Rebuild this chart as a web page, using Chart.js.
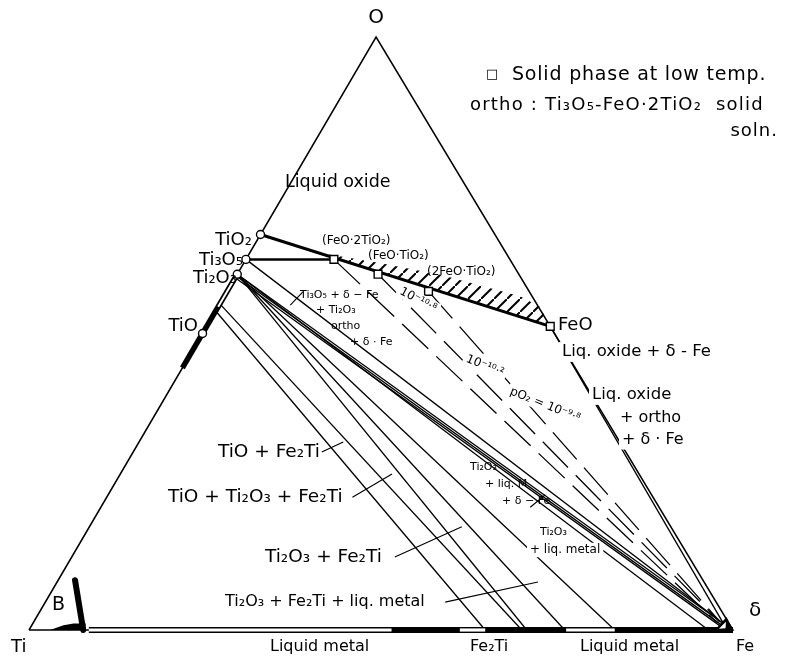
<!DOCTYPE html>
<html lang="en">
<head>
<meta charset="utf-8">
<title>Fe–Ti–O isothermal section</title>
<script src="https://cdn.jsdelivr.net/npm/chart.js"></script>
<style>
  html, body { margin: 0; padding: 0; background: #fff; }
  #wrap { width: 788px; height: 659px; }
</style>
</head>
<body>
<div id="wrap"><canvas id="diagram" width="788" height="659"></canvas></div>
<script>
// Every composition is [O, Fe] in atom fractions, Ti is what is left.
// x axis = Fe + SKEW * O, y axis = O  (SKEW puts the O corner over the base)
const SKEW = 0.493;

const corners = [[0, 0], [1, 0], [0, 1], [0, 0]];           // Ti, O, Fe, back to Ti
const titaniumOxides = [[0.667, 0], [0.625, 0], [0.6, 0], [0.5, 0]];      // TiO2, Ti3O5, Ti2O3, TiO
const lowTempSolids = [[0.625, 0.125], [0.6, 0.2], [0.571, 0.286], [0.512, 0.488]]; // FeO·2TiO2, FeO·TiO2, 2FeO·TiO2, FeO

const ironCorner = [0.010, 0.982];
const oxideLiquidus = [[0.667, 0], [0.512, 0.488]];        // TiO2 – FeO
const orthoJoin = [[0.625, 0], [0.625, 0.125]];            // Ti3O5 – FeO·2TiO2

// tie lines, start and end composition
const tieLines = [
  [[0.538, 0], [0, 0.648]],
  [[0.550, 0], [0, 0.700]],
  [[0.6, 0], [0, 0.707]],
  [[0.6, 0], [0, 0.761]],
  [[0.6, 0], [0, 0.832]],
  [[0.6, 0], [0, 0.965]],
  [[0.6, 0], ironCorner],
  [[0.597, 0], [0.007, 0.982]],
  [[0.594, 0], [0.004, 0.983]],
  [[0.625, 0], ironCorner],
  [[0.512, 0.488], ironCorner]
];

// oxygen isobars (10^-10.8, 10^-10.2, 10^-9.8 atm)
const isobars = [
  [[0.625, 0.125], [0.012, 0.972]],
  [[0.6, 0.2], [0.014, 0.974]],
  [[0.571, 0.286], [0.016, 0.972]]
];

// TiO solid solution along the Ti–O side, and its hollow upper part
const tioRange = [[0.442, 0], [0.6, 0]];
const tioCore = [[0.545, 0], [0.6, 0]];

// metal side: dark band with the liquid ranges left open
const metalBand = [[0, 0.085], [0, 1.0]];
const liquidGaps = [
  [[0, 0.085], [0, 0.515]],
  [[0, 0.612], [0, 0.648]],
  [[0, 0.763], [0, 0.832]]
];

const bPhase = [[0.084, 0.024], [0, 0.077]];
const bFoot = [[0, 0.030], [0.008, 0.045], [0.011, 0.058], [0.011, 0.075], [0, 0.080]];
const deltaTip = [[0, 0.974], [0.022, 0.980], [0, 1.0]];
const deltaHole = [[0.002, 0.979], [0.014, 0.983], [0.003, 0.988]];

// hatched wedge above TiO2 – FeO
const hatchZone = [[0.636, 0.098], [0.619, 0.193], [0.599, 0.289], [0.563, 0.420], [0.545, 0.457], [0.512, 0.488]];

// pointer strokes from the field names
const leaders = [
  [[0.300, 0.268], [0.317, 0.290]],
  [[0.224, 0.349], [0.263, 0.386]],
  [[0.123, 0.459], [0.174, 0.529]],
  [[0.047, 0.568], [0.081, 0.683]],
  [[0.548, 0.101], [0.570, 0.108]],
  [[0.207, 0.610], [0.228, 0.621]]
];

const FONT = '"DejaVu Sans", "Liberation Sans", sans-serif';
const labels = [
  { t: 'O', x: 376, y: 18, s: 20, a: 'center' },
  { t: '□', x: 486, y: 75, s: 13 },
  { t: 'Solid phase at low temp.', x: 512, y: 75, s: 19, ls: 0.8 },
  { t: 'ortho : Ti₃O₅-FeO·2TiO₂  solid', x: 470, y: 105, s: 18, ls: 1.2 },
  { t: 'soln.', x: 778, y: 131, s: 18, a: 'right', ls: 1 },
  { t: 'Liquid oxide', x: 285, y: 182, s: 17.5 },
  { t: 'TiO₂', x: 252, y: 240, s: 18, a: 'right' },
  { t: 'Ti₃O₅', x: 243, y: 260, s: 18, a: 'right' },
  { t: 'Ti₂O₃', x: 237, y: 278, s: 18, a: 'right' },
  { t: 'TiO', x: 198, y: 326, s: 18, a: 'right' },
  { t: '(FeO·2TiO₂)', x: 322, y: 241, s: 12 },
  { t: '(FeO·TiO₂)', x: 368, y: 256, s: 12 },
  { t: '(2FeO·TiO₂)', x: 427, y: 272, s: 12 },
  { t: 'FeO', x: 558, y: 325, s: 18 },
  { t: 'Liq. oxide + δ - Fe', x: 562, y: 352, s: 16.5, bg: true },
  { t: 'Liq. oxide', x: 592, y: 395, s: 16.5, bg: true },
  { t: '+ ortho', x: 620, y: 418, s: 16, bg: true },
  { t: '+ δ · Fe', x: 622, y: 440, s: 16, bg: true },
  { t: 'Ti₃O₅ + δ − Fe', x: 300, y: 295, s: 11 },
  { t: '+ Ti₂O₃', x: 316, y: 310, s: 11 },
  { t: 'ortho', x: 331, y: 326, s: 11 },
  { t: '+ δ · Fe', x: 350, y: 342, s: 11 },
  { t: '10⁻¹⁰·⁸', x: 418, y: 300, s: 12, a: 'center', r: 28, bg: true },
  { t: '10⁻¹⁰·²', x: 485, y: 366, s: 12, a: 'center', r: 22, bg: true },
  { t: 'pO₂ = 10⁻⁹·⁸', x: 545, y: 405, s: 12, a: 'center', r: 22, bg: true },
  { t: 'Ti₂O₃', x: 470, y: 467, s: 11 },
  { t: '+ liq. M', x: 485, y: 484, s: 11 },
  { t: '+ δ − Fe', x: 502, y: 501, s: 11 },
  { t: 'Ti₂O₃', x: 540, y: 532, s: 11 },
  { t: '+ liq. metal', x: 530, y: 550, s: 12, bg: true },
  { t: 'TiO + Fe₂Ti', x: 218, y: 452, s: 18.5 },
  { t: 'TiO + Ti₂O₃ + Fe₂Ti', x: 168, y: 497, s: 18.5 },
  { t: 'Ti₂O₃ + Fe₂Ti', x: 265, y: 557, s: 18.5 },
  { t: 'Ti₂O₃ + Fe₂Ti + liq. metal', x: 225, y: 602, s: 16 },
  { t: 'B', x: 52, y: 605, s: 19 },
  { t: 'δ', x: 749, y: 611, s: 20 },
  { t: 'Ti', x: 11, y: 647, s: 18 },
  { t: 'Liquid metal', x: 270, y: 647, s: 16 },
  { t: 'Fe₂Ti', x: 470, y: 647, s: 16 },
  { t: 'Liquid metal', x: 580, y: 647, s: 16 },
  { t: 'Fe', x: 736, y: 647, s: 16 }
];

const toXY = ([o, fe]) => ({ x: fe + SKEW * o, y: o });

function line(points, width, extra) {
  return Object.assign({
    data: points.map(toXY),
    showLine: true,
    borderColor: '#000',
    borderWidth: width,
    pointRadius: 0,
    pointHoverRadius: 0,
    fill: false,
    clip: false,
    order: 5
  }, extra || {});
}

const datasets = [];
datasets.push(line(corners, 1.5));
datasets.push(line(tioRange, 5.5, { order: 3 }));
datasets.push(line(tioCore, 2, { borderColor: '#fff', order: 2 }));
datasets.push(line(metalBand, 6, { order: 3 }));
liquidGaps.forEach(g => datasets.push(line(g, 3.2, { borderColor: '#fff', order: 2 })));
datasets.push(line(bPhase, 6, { borderCapStyle: 'round', order: 3 }));
datasets.push(line(oxideLiquidus, 3, { order: 4 }));
datasets.push(line(orthoJoin, 2.5, { order: 4 }));
tieLines.forEach(t => datasets.push(line(t, 1.3)));
isobars.forEach(p => datasets.push(line(p, 1.3, { borderDash: [36, 11] })));
leaders.forEach(l => datasets.push(line(l, 1.1)));
datasets.push({
  data: titaniumOxides.map(toXY), showLine: false, clip: false, order: 0,
  pointStyle: 'circle', pointRadius: 4, pointBackgroundColor: '#fff',
  pointBorderColor: '#000', pointBorderWidth: 1.4
});
datasets.push({
  data: lowTempSolids.map(toXY), showLine: false, clip: false, order: 0,
  pointStyle: 'rect', pointRadius: 5.5, pointBackgroundColor: '#fff',
  pointBorderColor: '#000', pointBorderWidth: 1.4
});

function hatchPattern(ctx) {
  const tile = document.createElement('canvas');
  tile.width = 13; tile.height = 13;
  const g = tile.getContext('2d');
  g.strokeStyle = '#000';
  g.lineWidth = 2;
  g.beginPath();
  g.moveTo(-3, 16); g.lineTo(16, -3);
  g.stroke();
  return ctx.createPattern(tile, 'repeat');
}

function tracePolygon(chart, pts) {
  const { ctx, scales } = chart;
  ctx.beginPath();
  pts.map(toXY).forEach((p, i) => {
    const px = scales.x.getPixelForValue(p.x);
    const py = scales.y.getPixelForValue(p.y);
    if (i === 0) ctx.moveTo(px, py); else ctx.lineTo(px, py);
  });
  ctx.closePath();
}

const annotate = {
  id: 'annotate',
  beforeDatasetsDraw(chart) {
    const ctx = chart.ctx;
    ctx.save();
    tracePolygon(chart, hatchZone);
    ctx.fillStyle = hatchPattern(ctx);
    ctx.fill();
    ctx.restore();
  },
  afterDatasetsDraw(chart) {
    const ctx = chart.ctx;
    ctx.save();
    ctx.fillStyle = '#000';
    tracePolygon(chart, bFoot); ctx.fill();
    tracePolygon(chart, deltaTip); ctx.fill();
    ctx.fillStyle = '#fff';
    tracePolygon(chart, deltaHole); ctx.fill();

    labels.forEach(l => {
      ctx.save();
      ctx.font = l.s + 'px ' + FONT;
      ctx.letterSpacing = (l.ls || 0) + 'px';
      ctx.textAlign = l.a || 'left';
      ctx.textBaseline = 'middle';
      ctx.translate(l.x, l.y);
      if (l.r) ctx.rotate(l.r * Math.PI / 180);
      if (l.bg) {
        const w = ctx.measureText(l.t).width;
        const x0 = l.a === 'center' ? -w / 2 : (l.a === 'right' ? -w : 0);
        ctx.fillStyle = '#fff';
        ctx.fillRect(x0 - 3, -l.s * 0.6, w + 6, l.s * 1.2);
      }
      ctx.fillStyle = '#000';
      ctx.fillText(l.t, 0, 0);
      ctx.restore();
    });
    ctx.restore();
  }
};

new Chart(document.getElementById('diagram'), {
  type: 'scatter',
  data: { datasets },
  options: {
    responsive: false,
    animation: false,
    events: [],
    layout: { padding: { left: 29, right: 55, top: 37, bottom: 29 } },
    scales: {
      x: { type: 'linear', min: 0, max: 1, display: false },
      y: { type: 'linear', min: 0, max: 1, display: false }
    },
    plugins: { legend: { display: false }, tooltip: { enabled: false } }
  },
  plugins: [annotate]
});
</script>
</body>
</html>
